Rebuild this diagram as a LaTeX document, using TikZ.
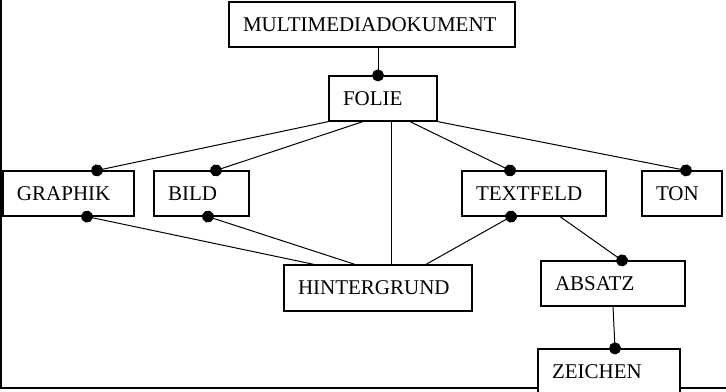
\documentclass[tikz,border=0pt]{standalone}
\usepackage{fontspec}
\setmainfont{Liberation Serif}
\usetikzlibrary{arrows.meta}
\tikzset{
  box/.style={draw, fill=white, line width=.6pt, minimum height=22.5pt,
              inner xsep=7pt, align=left, font=\fontsize{10.5}{12}\selectfont},
  dot/.style={-{Circle[length=6pt]}, shorten >=-3pt},
  link/.style={line width=.5pt}
}
\begin{document}
\begin{tikzpicture}[x=.5pt,y=-.5pt]
  \useasboundingbox (0,0) rectangle (726,391);
  \draw[line width=1pt] (1,0) -- (1,388) (0,388) -- (726,388);

  \node[box, text width=129pt] (multi)       at (372,24.5) {MULTIMEDIADOKUMENT};
  \node[box, text width=40pt]  (folie)       at (383,98.5) {FOLIE};
  \node[box, text width=51.5pt](graphik)     at (68.5,193.5) {GRAPHIK};
  \node[box, text width=33.5pt](bild)        at (201.5,193.5) {BILD};
  \node[box, text width=58pt]  (textfeld)    at (534,193.5) {TEXTFELD};
  \node[box, text width=26pt]  (ton)         at (682,193.5) {TON};
  \node[box, text width=80pt, minimum height=23pt] (hintergrund) at (378,288) {HINTERGRUND};
  \node[box, text width=58pt]  (absatz)      at (613,283.5) {ABSATZ};
  \node[box, text width=57pt]  (zeichen)     at (609,371.5) {ZEICHEN};

  \draw[link,dot] ([xshift=-2.5pt]folie.north |- multi.south) -- ([xshift=-2.5pt]folie.north);
  \draw[link,dot] (folie.south west)            -- ([xshift=14.25pt]graphik.north);
  \draw[link,dot] ([xshift=-10pt]folie.south)   -- ([xshift=7.25pt]bild.north);
  \draw[link]     ([xshift=4pt]folie.south)     -- ([xshift=4pt]folie.south |- hintergrund.north);
  \draw[link,dot] ([xshift=13.5pt]folie.south)  -- ([xshift=-12pt]textfeld.north);
  \draw[link,dot] (folie.south east)            -- ([xshift=2pt]ton.north);
  \draw[link,dot] ([xshift=-32pt]hintergrund.north)  -- ([xshift=9.25pt]graphik.south);
  \draw[link,dot] ([xshift=-11.5pt]hintergrund.north) -- ([xshift=3.25pt]bild.south);
  \draw[link,dot] ([xshift=24pt]hintergrund.north)    -- ([xshift=-11.5pt]textfeld.south);
  \draw[link,dot] ([xshift=13pt]textfeld.south) -- ([xshift=4.5pt]absatz.north);
  \draw[link,dot] (absatz.south)                -- ([xshift=3pt]zeichen.north);
\end{tikzpicture}
\end{document}
